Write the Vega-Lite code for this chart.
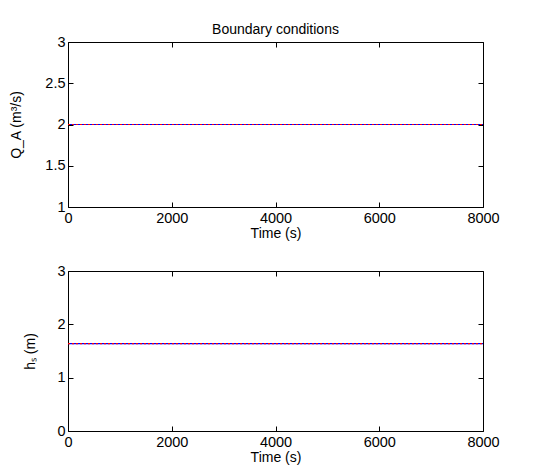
{
  "$schema": "https://vega.github.io/schema/vega-lite/v6.json",
  "background": "white",
  "padding": {"left": 9, "top": 22, "right": 7, "bottom": 5},
  "datasets": {
    "qa": [
      {"t": 0, "v": 2.0, "s": "A"}, {"t": 8000, "v": 2.0, "s": "A"},
      {"t": 0, "v": 2.0, "s": "B"}, {"t": 8000, "v": 2.0, "s": "B"}
    ],
    "hs": [
      {"t": 0, "v": 1.64, "s": "A"}, {"t": 8000, "v": 1.64, "s": "A"},
      {"t": 0, "v": 1.64, "s": "B"}, {"t": 8000, "v": 1.64, "s": "B"}
    ]
  },
  "config": {
    "font": "Liberation Sans",
    "view": {"stroke": "black", "strokeWidth": 1},
    "axis": {
      "domain": false, "grid": false,
      "tickColor": "black", "tickSize": -5, "tickWidth": 1,
      "labelColor": "black", "labelFont": "Liberation Sans", "labelFontSize": 14.5,
      "titleColor": "black", "titleFont": "Liberation Sans", "titleFontSize": 14, "titleFontWeight": "normal",
      "labelPadding": 9, "format": "~g"
    },
    "concat": {"spacing": 21}
  },
  "vconcat": [
    {
      "width": 415, "height": 165,
      "title": {"text": "Boundary conditions", "font": "Liberation Sans", "fontSize": 14, "fontWeight": "normal", "color": "black", "offset": -3},
      "data": {"name": "qa"},
      "layer": [
        {
          "mark": {"type": "line", "strokeWidth": 1.2, "color": "#0000ff", "clip": true},
          "transform": [{"filter": "datum.s === 'A'"}],
          "encoding": {
            "x": {"field": "t", "type": "quantitative", "scale": {"domain": [0, 8000], "nice": false},
                  "axis": {"title": "Time (s)", "values": [0, 2000, 4000, 6000, 8000], "titlePadding": 2, "labelFlush": false, "format": "d"}},
            "y": {"field": "v", "type": "quantitative", "scale": {"domain": [1, 3], "nice": false, "zero": false},
                  "axis": {"title": "Q_A (m³/s)", "values": [1, 1.5, 2, 2.5, 3], "titlePadding": 21, "labelPadding": 8, "format": "~g"}}
          }
        },
        {
          "mark": {"type": "line", "strokeWidth": 1.2, "strokeDash": [2, 2], "color": "#ff0000", "clip": true},
          "transform": [{"filter": "datum.s === 'B'"}],
          "encoding": {
            "x": {"field": "t", "type": "quantitative", "axis": {"orient": "top", "title": null, "labels": false, "values": [0, 2000, 4000, 6000, 8000]}},
            "y": {"field": "v", "type": "quantitative", "axis": {"orient": "right", "title": null, "labels": false, "values": [1, 1.5, 2, 2.5, 3]}}
          }
        }
      ],
      "resolve": {"axis": {"x": "independent", "y": "independent"}}
    },
    {
      "width": 415, "height": 160,
      "data": {"name": "hs"},
      "layer": [
        {
          "mark": {"type": "line", "strokeWidth": 1.2, "color": "#0000ff", "clip": true},
          "transform": [{"filter": "datum.s === 'A'"}],
          "encoding": {
            "x": {"field": "t", "type": "quantitative", "scale": {"domain": [0, 8000], "nice": false},
                  "axis": {"title": "Time (s)", "values": [0, 2000, 4000, 6000, 8000], "titlePadding": 2, "labelFlush": false, "format": "d"}},
            "y": {"field": "v", "type": "quantitative", "scale": {"domain": [0, 3], "nice": false},
                  "axis": {"title": "hₛ (m)", "values": [0, 1, 2, 3], "titlePadding": 19, "labelPadding": 8, "format": "d"}}
          }
        },
        {
          "mark": {"type": "line", "strokeWidth": 1.2, "strokeDash": [2, 2], "color": "#ff0000", "clip": true},
          "transform": [{"filter": "datum.s === 'B'"}],
          "encoding": {
            "x": {"field": "t", "type": "quantitative", "axis": {"orient": "top", "title": null, "labels": false, "values": [0, 2000, 4000, 6000, 8000]}},
            "y": {"field": "v", "type": "quantitative", "axis": {"orient": "right", "title": null, "labels": false, "values": [0, 1, 2, 3]}}
          }
        }
      ],
      "resolve": {"axis": {"x": "independent", "y": "independent"}}
    }
  ]
}
